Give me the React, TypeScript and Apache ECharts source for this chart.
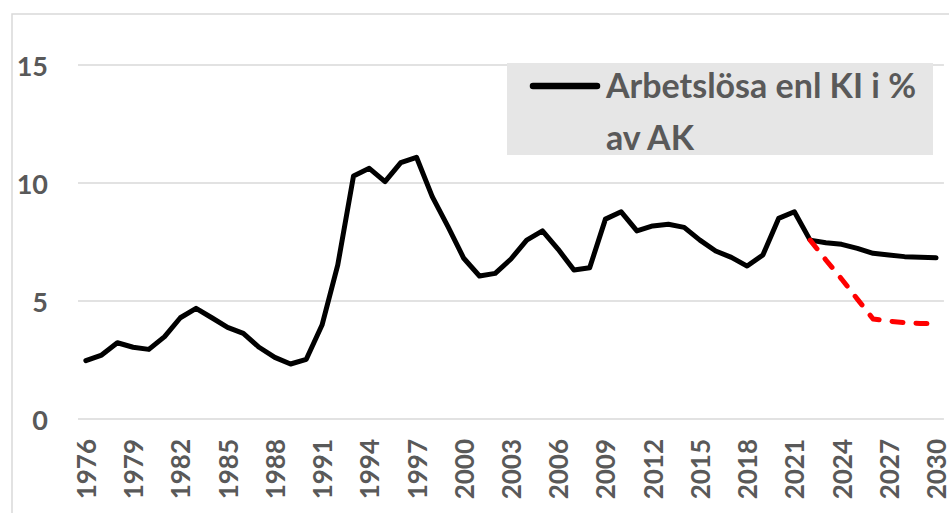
import React, { useEffect, useRef } from "react";
import * as echarts from "echarts";

const years: string[] = [
  "1976", "1977", "1978", "1979", "1980", "1981", "1982", "1983", "1984", "1985",
  "1986", "1987", "1988", "1989", "1990", "1991", "1992", "1993", "1994", "1995",
  "1996", "1997", "1998", "1999", "2000", "2001", "2002", "2003", "2004", "2005",
  "2006", "2007", "2008", "2009", "2010", "2011", "2012", "2013", "2014", "2015",
  "2016", "2017", "2018", "2019", "2020", "2021", "2022", "2023", "2024", "2025",
  "2026", "2027", "2028", "2029", "2030",
];

const unemployment: number[] = [
  2.47, 2.71, 3.23, 3.04, 2.95, 3.49, 4.29, 4.69, 4.29, 3.88,
  3.63, 3.04, 2.61, 2.33, 2.53, 3.98, 6.53, 10.3, 10.62, 10.06,
  10.86, 11.09, 9.42, 8.15, 6.81, 6.06, 6.17, 6.78, 7.58, 7.97,
  7.19, 6.31, 6.41, 8.47, 8.78, 7.97, 8.18, 8.25, 8.12, 7.58,
  7.12, 6.85, 6.48, 6.95, 8.5, 8.78, 7.58, 7.47, 7.4, 7.23,
  7.02, 6.95, 6.88, 6.85, 6.83,
];

const alternativeYears: string[] = [
  "2022", "2023", "2024", "2025", "2026", "2027", "2028", "2029", "2030",
];
const alternativeValues: number[] = [7.58, 6.74, 5.93, 5.08, 4.24, 4.15, 4.08, 4.05, 4.03];

const seriesName = "Arbetslösa enl KI i % av AK";
const legendText = "Arbetslösa enl KI i %\nav AK";

const yMin = 0;
const yMax = 15;
const yInterval = 5;

export default function App() {
  const ref = useRef<HTMLDivElement>(null);

  useEffect(() => {
    if (!ref.current) return;
    const chart = echarts.init(ref.current, null, { renderer: "svg" });

    const altData = years.map((y) => {
      const idx = alternativeYears.indexOf(y);
      return idx >= 0 ? alternativeValues[idx] : null;
    });

    const labelColor = "#595959";
    const font = "Lato";

    chart.setOption({
      animation: false,
      backgroundColor: "#ffffff",
      grid: { left: 78, right: -2, top: 65, bottom: 94, containLabel: false },
      xAxis: {
        type: "category",
        data: years,
        boundaryGap: true,
        axisLine: { show: false },
        axisTick: { show: false },
        axisLabel: {
          interval: 2,
          rotate: 90,
          margin: 20,
          color: labelColor,
          fontFamily: font,
          fontWeight: "bold",
          fontSize: 26,
        },
        splitLine: { show: false },
      },
      yAxis: {
        type: "value",
        min: yMin,
        max: yMax,
        interval: yInterval,
        axisLine: { show: false },
        axisTick: { show: false },
        axisLabel: {
          margin: 30,
          color: labelColor,
          fontFamily: font,
          fontWeight: "bold",
          fontSize: 27,
        },
        splitLine: { show: true, lineStyle: { color: "#d9d9d9", width: 1.5 } },
      },
      series: [
        {
          name: seriesName,
          type: "line",
          data: unemployment,
          symbol: "none",
          lineStyle: { color: "#000000", width: 5, join: "round", cap: "round" },
          z: 3,
        },
        {
          name: "Alternativ",
          type: "line",
          data: altData,
          symbol: "none",
          connectNulls: false,
          lineStyle: {
            color: "#ff0000",
            width: 5,
            type: [11, 13],
            cap: "round",
            join: "round",
          },
          z: 4,
        },
      ],
      graphic: [
        {
          type: "rect",
          z: 0,
          shape: { x: 12, y: 14, width: 1200, height: 1200 },
          style: { fill: "none", stroke: "#d9d9d9", lineWidth: 1.5 },
          silent: true,
        },
        {
          type: "rect",
          z: 10,
          shape: { x: 507, y: 63, width: 426, height: 92 },
          style: { fill: "#e6e6e6" },
          silent: true,
        },
        {
          type: "line",
          z: 11,
          shape: { x1: 533, y1: 86, x2: 597, y2: 86 },
          style: { stroke: "#000000", lineWidth: 6.5, lineCap: "round" },
          silent: true,
        },
        {
          type: "text",
          z: 11,
          x: 606,
          y: 58,
          style: {
            text: legendText,
            fill: labelColor,
            fontFamily: font,
            fontWeight: "bold",
            fontSize: 34,
            lineHeight: 52,
            verticalAlign: "top",
            align: "left",
          },
          silent: true,
        },
      ],
    });

    return () => {
      chart.dispose();
    };
  }, []);

  return (
    <div
      ref={ref}
      style={{ position: "absolute", left: 0, top: 0, width: 949, height: 513 }}
    />
  );
}
